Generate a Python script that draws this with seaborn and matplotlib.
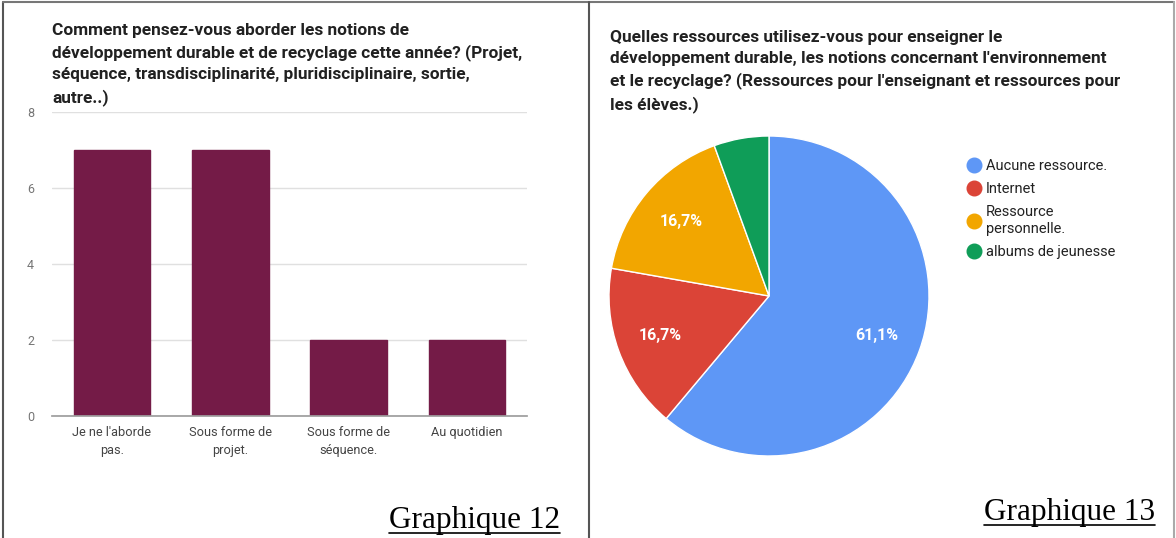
import matplotlib
matplotlib.use("Agg")
import matplotlib.pyplot as plt
from matplotlib.lines import Line2D
import seaborn as sns

# Bar chart data (Graphique 12)
bar_labels = ["Je ne l'aborde\npas.", "Sous forme de\nprojet.", "Sous forme de\nséquence.", "Au quotidien"]
bar_values = [7, 7, 2, 2]
bar_title = ("Comment pensez-vous aborder les notions de\n"
             "développement durable et de recyclage cette année? (Projet,\n"
             "séquence, transdisciplinarité, pluridisciplinaire, sortie,\n"
             "autre..)")

# Pie chart data (Graphique 13), 18 answers
pie_labels = ["Aucune ressource.", "Internet", "Ressource\npersonnelle.", "albums de jeunesse"]
pie_counts = [11, 3, 3, 1]
pie_colors = ["#5e97f6", "#db4437", "#f2a600", "#0f9d58"]
pie_title = ("Quelles ressources utilisez-vous pour enseigner le\n"
             "développement durable, les notions concernant l'environnement\n"
             "et le recyclage? (Ressources pour l'enseignant et ressources pour\n"
             "les élèves.)")

sns.set_theme(style="white")
plt.rcParams["font.family"] = ["Roboto", "DejaVu Sans"]

W, H = 1176, 538
fig = plt.figure(figsize=(W / 100, H / 100), dpi=100)


def fx(px):
    return px / W


def fy(py):
    return 1 - py / H


# ---- panel frames
frame_kw = dict(transform=fig.transFigure, lw=1.5)
fig.add_artist(Line2D([fx(3), fx(3)], [0, fy(2)], color="#555555", **frame_kw))
fig.add_artist(Line2D([fx(3), fx(1174)], [fy(2), fy(2)], color="#777777", **frame_kw))
fig.add_artist(Line2D([fx(589), fx(589)], [0, fy(2)], color="#555555", **frame_kw))
fig.add_artist(Line2D([fx(1174), fx(1174)], [0, fy(2)], color="#aaaaaa", **frame_kw))

# ---- bar chart
ax = fig.add_axes([fx(52), fy(416), fx(527 - 52), fy(112) - fy(416)])
sns.barplot(x=bar_labels, y=bar_values, color="#741b47", width=0.65,
            saturation=1, edgecolor="#741b47", ax=ax)
ax.set_ylim(0, 8)
ax.set_xlim(-0.507, 3.507)
ax.set_yticks([0, 2, 4, 6, 8])
ax.yaxis.grid(True, color="#e0e0e0", lw=1)
ax.set_axisbelow(True)
for s in ["top", "right", "left"]:
    ax.spines[s].set_visible(False)
ax.spines["bottom"].set_color("#9e9e9e")
ax.tick_params(axis="y", length=0, labelsize=9, labelcolor="#757575", pad=13)
ax.tick_params(axis="x", length=0, labelsize=9.2, labelcolor="#444444", pad=7)
for lab in ax.get_xticklabels():
    lab.set_linespacing(1.55)
ax.set_xlabel("")
ax.set_ylabel("")

fig.text(fx(52), fy(23), bar_title, ha="left", va="top", fontsize=12.4,
         fontweight="bold", color="#212121", linespacing=1.49)

# ---- pie chart
pax = fig.add_axes([fx(609), fy(456), fx(320), fy(136) - fy(456)])


def pct_label(p):
    return f"{p:.1f}%".replace(".", ",") if p > 10 else ""


wedges, _, autotexts = pax.pie(pie_counts, colors=pie_colors, startangle=90,
                               counterclock=False, autopct=pct_label, pctdistance=0.72,
                               wedgeprops=dict(edgecolor="white", linewidth=1),
                               textprops=dict(color="white", fontsize=11.5,
                                              fontweight="bold"))
pax.set_xlim(-1, 1)
pax.set_ylim(-1, 1)

handles = [Line2D([], [], marker="o", ls="", markersize=10.5, markerfacecolor=c,
                  markeredgecolor=c) for c in pie_colors]
leg = pax.legend(handles, pie_labels, loc="upper left", bbox_to_anchor=(fx(952), fy(146)),
                 bbox_transform=fig.transFigure, frameon=False, fontsize=10.5,
                 handletextpad=0.2, labelspacing=0.6, handlelength=1.2,
                 labelcolor="#222222")
for txt in leg.get_texts():
    txt.set_linespacing(1.35)

fig.text(fx(610), fy(30), pie_title, ha="left", va="top", fontsize=12.4,
         fontweight="bold", color="#212121", linespacing=1.49)

# ---- captions with underline
caps = []
for x_right, y_base, txt in [(560, 528, "Graphique 12"), (1155, 520, "Graphique 13")]:
    t = fig.text(fx(x_right), fy(y_base), txt, ha="right", va="baseline",
                 fontsize=22.5, family="Liberation Serif", color="black")
    caps.append((t, y_base))

fig.canvas.draw()
renderer = fig.canvas.get_renderer()
for t, y_base in caps:
    bb = t.get_window_extent(renderer)
    fig.add_artist(Line2D([bb.x0 / W, bb.x1 / W], [fy(y_base + 5)] * 2,
                          transform=fig.transFigure, color="black", lw=1.2))

fig.savefig("out.png", dpi=100)
